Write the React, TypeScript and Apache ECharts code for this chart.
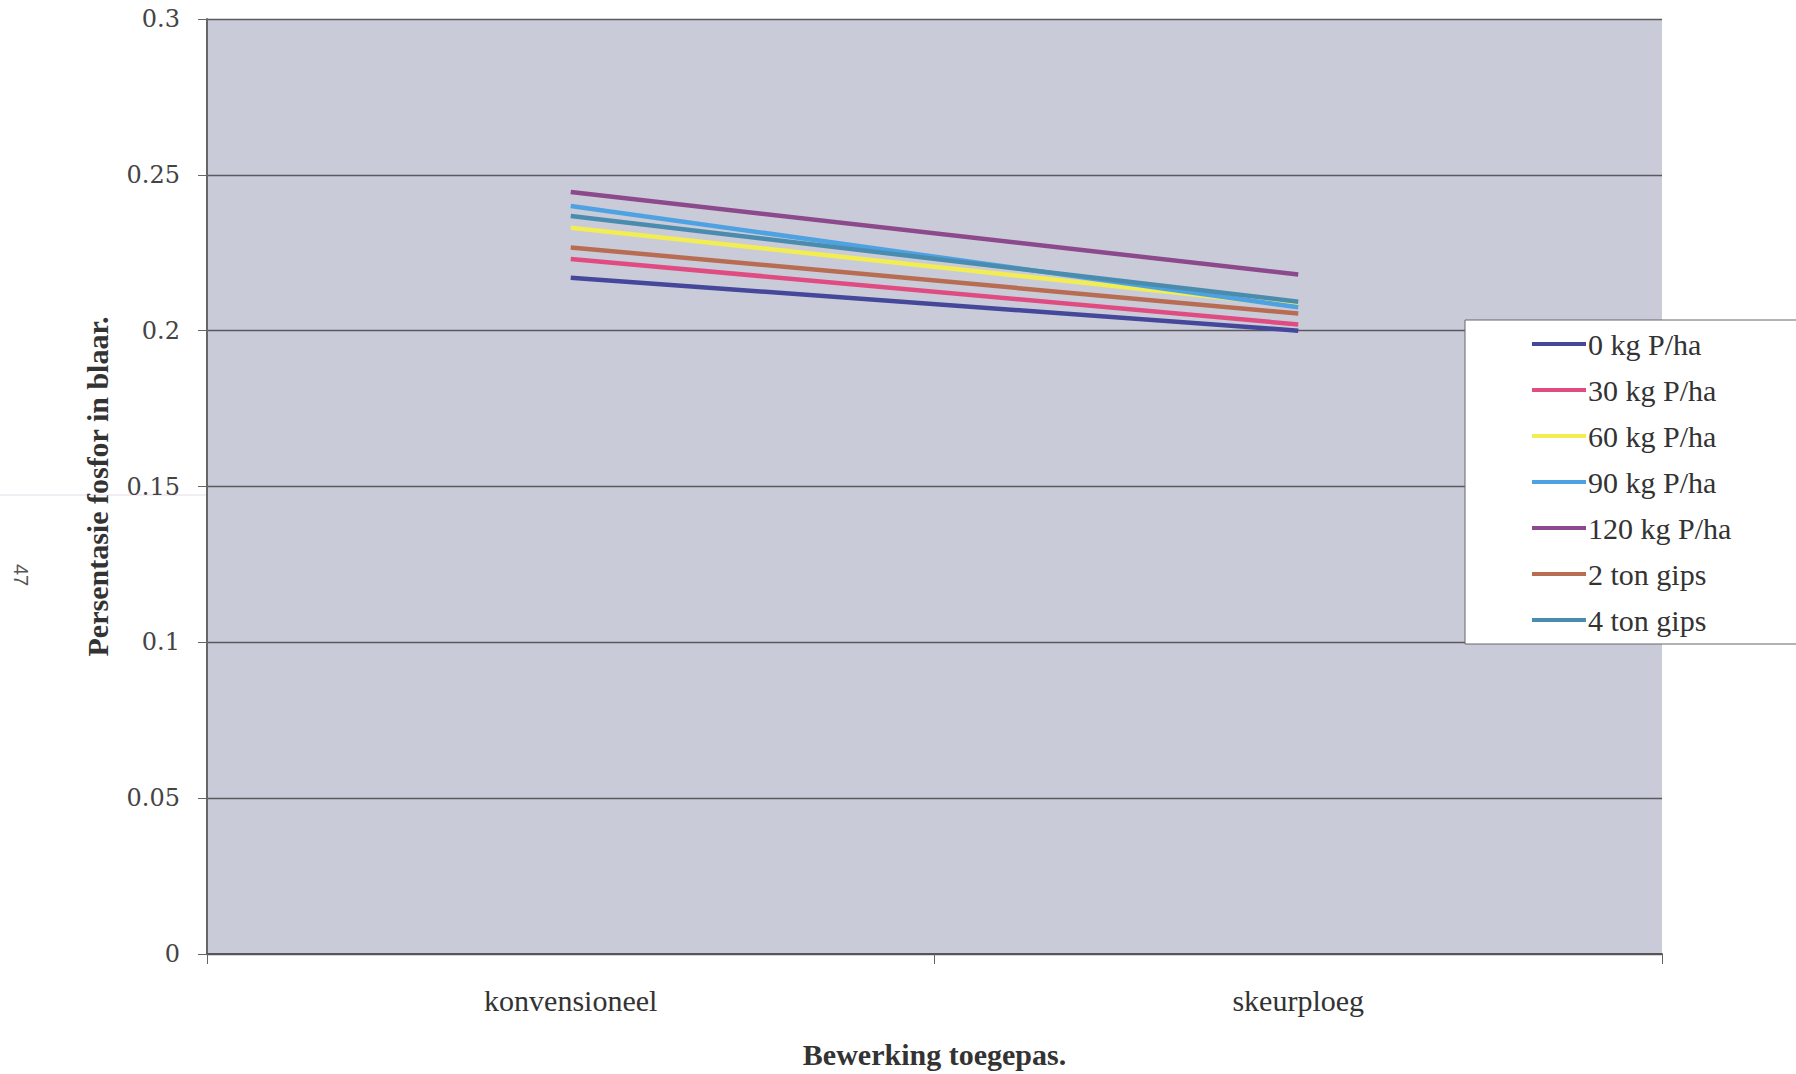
import React, { useEffect, useRef } from "react";
import * as echarts from "echarts";

const categories = ["konvensioneel", "skeurploeg"];
const seriesNames = ["0 kg P/ha", "30 kg P/ha", "60 kg P/ha", "90 kg P/ha", "120 kg P/ha", "2 ton gips", "4 ton gips"];
const v0 = [0.217, 0.2];
const v30 = [0.223, 0.202];
const v60 = [0.233, 0.208];
const v90 = [0.24, 0.2075];
const v120 = [0.2445, 0.218];
const v2ton = [0.2267, 0.2055];
const v4ton = [0.2368, 0.2093];
const seriesValues = [v0, v30, v60, v90, v120, v2ton, v4ton];
const seriesColors = ["#44479a", "#e04c82", "#f2ee52", "#4ea2e2", "#8c4a8c", "#b86c52", "#4a8cae"];
const yTicks = { min: 0, max: 0.3, interval: 0.05 };

export default function App() {
  const ref = useRef<HTMLDivElement>(null);
  useEffect(() => {
    if (!ref.current) return;
    const chart = echarts.init(ref.current, undefined, { renderer: "svg" });
    const serif = "Liberation Serif";
    chart.setOption({
      animation: false,
      backgroundColor: "#ffffff",
      grid: {
        left: 207,
        top: 19,
        width: 1455,
        height: 935,
        backgroundColor: "#c9cbd9",
        show: true,
        borderWidth: 0,
        containLabel: false,
        outerBoundsMode: "none",
      },
      xAxis: {
        type: "category",
        data: categories,
        boundaryGap: true,
        axisLine: { show: true, lineStyle: { color: "#555", width: 2 } },
        axisTick: { show: true, inside: false, length: 10, lineStyle: { color: "#666", width: 1 } },
        axisLabel: { margin: 31, fontFamily: serif, fontSize: 30, color: "#333" },
        name: "Bewerking toegepas.",
        nameLocation: "middle",
        nameGap: 85,
        nameTextStyle: { fontFamily: serif, fontSize: 30, fontWeight: "bold", color: "#333" },
      },
      yAxis: {
        type: "value",
        min: yTicks.min,
        max: yTicks.max,
        interval: yTicks.interval,
        axisLine: { show: true, lineStyle: { color: "#666", width: 2 } },
        axisTick: { show: true, length: 9, lineStyle: { color: "#666" } },
        splitLine: { show: true, lineStyle: { color: "#5a5a5e", width: 1.3 } },
        axisLabel: { margin: 27, fontFamily: "DejaVu Serif", fontSize: 24, color: "#444" },
        name: "Persentasie fosfor in blaar.",
        nameLocation: "middle",
        nameGap: 95,
        nameTextStyle: { fontFamily: serif, fontSize: 30, fontWeight: "bold", color: "#333" },
      },
      legend: {
        orient: "vertical",
        left: 1465,
        top: 320,
        padding: [8, 160, 8, 67],
        backgroundColor: "#ffffff",
        borderColor: "#666",
        borderWidth: 1,
        icon: "rect",
        itemWidth: 54,
        itemHeight: 4,
        itemGap: 14,
        data: seriesNames,
        textStyle: { fontFamily: serif, fontSize: 30, color: "#333", lineHeight: 32, padding: [0, 0, 0, -3] },
      },
      graphic: [
        {
          type: "text",
          x: 21,
          y: 575,
          rotation: -Math.PI / 2,
          style: { text: "47", fontFamily: "Liberation Sans", fontSize: 20, fill: "#555", align: "center", verticalAlign: "middle" },
        },
        {
          type: "line",
          shape: { x1: 0, y1: 495, x2: 280, y2: 495 },
          style: { stroke: "#e4dbe8", lineWidth: 1 },
          z: -1,
        },
      ],
      series: seriesNames.map((name, i) => ({
        name,
        type: "line",
        data: seriesValues[i],
        symbol: "none",
        color: seriesColors[i],
        lineStyle: { color: seriesColors[i], width: 4.5 },
      })),
    });
    return () => chart.dispose();
  }, []);
  return <div ref={ref} style={{ position: "fixed", left: 0, top: 0, width: 1796, height: 1074 }} />;
}
